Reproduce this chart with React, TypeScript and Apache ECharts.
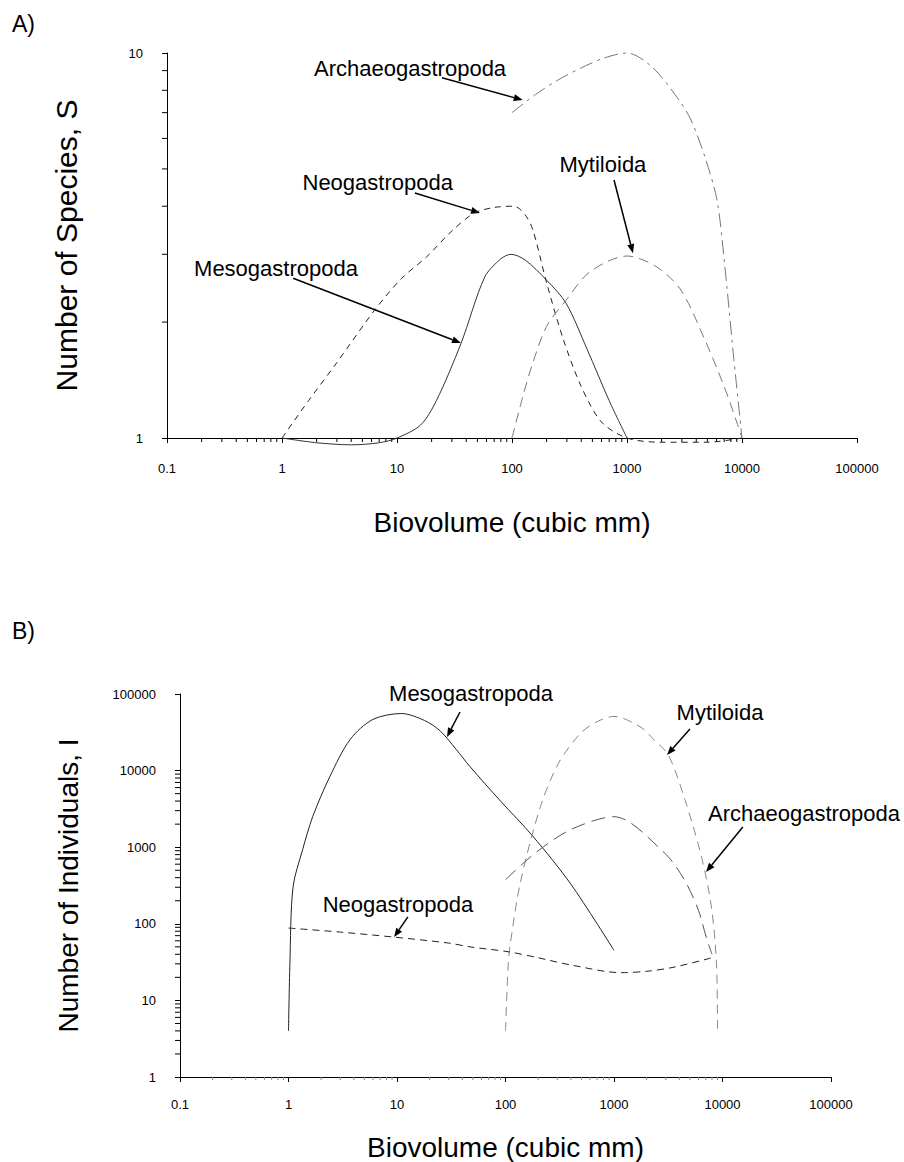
import React, { useEffect, useRef } from "react";
import * as echarts from "echarts";

// ---------- DATA ----------
const xTickValues = [0.1, 1, 10, 100, 1000, 10000, 100000];
const yTicksA = [1, 10];
const yTicksB = [1, 10, 100, 1000, 10000, 100000];

// Panel A: Number of species, S
const neoA: [number, number][] = [
  [1, 1], [1.7, 1.25], [3, 1.57], [6.4, 2.15], [11, 2.6], [18, 2.95], [30, 3.45],
  [47, 3.84], [70, 3.97], [104, 4], [130, 3.8], [152, 3.47], [200, 2.53], [280, 1.8],
  [400, 1.36], [600, 1.1], [1000, 1], [2000, 0.975], [5000, 0.975], [10000, 1],
];
const mesoA: [number, number][] = [
  [1, 1], [2, 0.972], [4, 0.96], [7, 0.972], [10, 1], [16, 1.08], [22, 1.25], [36, 1.76],
  [58, 2.62], [80, 2.92], [98, 3], [130, 2.9], [200, 2.57], [295, 2.24], [450, 1.7],
  [700, 1.25], [1000, 1],
];
const mytA: [number, number][] = [
  [100, 1], [124, 1.28], [152, 1.57], [200, 1.95], [295, 2.28], [475, 2.7], [1000, 2.97],
  [1820, 2.78], [2950, 2.42], [4750, 1.8], [7000, 1.36], [9000, 1.1], [10000, 1],
];
const archA: [number, number][] = [
  [100, 7.0], [160, 7.8], [250, 8.5], [400, 9.15], [630, 9.7], [1000, 10], [1650, 9.2],
  [2830, 7.55], [3600, 6.7], [4760, 5.37], [6060, 4.15], [7000, 2.9], [8500, 1.6], [10000, 1],
];

// Panel B: Number of individuals, I
const mesoB: [number, number][] = [
  [1, 4], [1.03, 30], [1.1, 300], [1.35, 930], [1.67, 2500], [2.4, 8300], [3.7, 25500],
  [6, 46600], [11, 55600], [18, 45000], [25, 33000], [35, 19000], [47, 11300], [90, 4000],
  [178, 1400], [400, 330], [1000, 45],
];
const mytB: [number, number][] = [
  [100, 4], [106, 30], [111, 56], [137, 345], [210, 3400], [310, 12700], [495, 31000],
  [710, 44000], [1000, 51000], [1780, 36500], [2350, 25000], [3170, 16000], [4500, 4200],
  [6400, 750], [7900, 167], [8800, 30], [9000, 4],
];
const archB: [number, number][] = [
  [100, 376], [190, 850], [400, 1700], [1000, 2500], [2900, 850], [4450, 376], [6000, 150],
  [7100, 66], [8000, 40],
];
const neoB: [number, number][] = [
  [1, 88], [3, 78], [9.4, 67], [30, 56], [47, 50], [108, 43], [200, 36], [400, 29],
  [1160, 23], [2000, 24], [3500, 27], [8000, 36],
];

// Annotation anchors (data coordinates): text centre, arrow tail, arrow head
const annotA = [
  { text: "Archaeogastropoda", at: [13, 9.14], from: [24.6, 8.62], to: [124, 7.55] },
  { text: "Neogastropoda", at: [6.8, 4.6], from: [14.3, 4.33], to: [52.7, 3.84] },
  { text: "Mesogastropoda", at: [0.887, 2.76], from: [1.25, 2.6], to: [36, 1.765] },
  { text: "Mytiloida", at: [618, 5.12], from: [771, 4.68], to: [1127, 3.02] },
];
const annotB = [
  { text: "Mesogastropoda", at: [48.1, 103000], from: [38.1, 58200], to: [28.9, 27500] },
  { text: "Mytiloida", at: [9480, 56500], from: [5010, 34900], to: [3080, 16000] },
  { text: "Archaeogastropoda", at: [56400, 2790], from: [15400, 1840], to: [7050, 474] },
  { text: "Neogastropoda", at: [10.2, 176], from: [12.6, 123], to: [9.4, 67] },
];

// ---------- helpers ----------
const FONT = '"Liberation Sans", Arial, sans-serif';

function minorValues(lo: number, hi: number): number[] {
  const out: number[] = [];
  for (let d = lo; d < hi * 0.999; d *= 10) {
    for (let m = 2; m <= 9; m++) out.push(+(d * m).toPrecision(6));
  }
  return out;
}

const fmt = (v: number) => {
  if (v < 0.5) return "0.1";
  return String(Math.round(v));
};

function tickSeries(xi: number, data: number[][], dx: number, dy: number, color = "#000") {
  return {
    type: "custom",
    xAxisIndex: xi,
    yAxisIndex: xi,
    silent: true,
    clip: false,
    data,
    z: 1,
    renderItem: (params: any, api: any) => {
      const p = api.coord([api.value(0), api.value(1)]);
      return {
        type: "line",
        shape: { x1: p[0], y1: p[1], x2: p[0] + dx, y2: p[1] + dy },
        style: { stroke: color, lineWidth: 1 },
      };
    },
  };
}

function lineSeries(name: string, idx: number, data: [number, number][], color: string, type: any) {
  return {
    name,
    type: "line",
    xAxisIndex: idx,
    yAxisIndex: idx,
    data,
    showSymbol: false,
    smooth: 0.3,
    clip: false,
    silent: true,
    lineStyle: { color, width: 1, type },
    z: 3,
  };
}

export default function App() {
  const ref = useRef<HTMLDivElement>(null);

  useEffect(() => {
    const chart = echarts.init(ref.current!, null, { renderer: "svg" });

    const xAxisCommon = (gi: number, margin: number, nameGap: number) => ({
      type: "log",
      logBase: 10,
      gridIndex: gi,
      min: xTickValues[0],
      max: xTickValues[xTickValues.length - 1],
      splitNumber: 6,
      name: "Biovolume (cubic mm)",
      nameLocation: "middle",
      nameGap,
      nameTextStyle: { fontSize: 28, color: "#000", fontFamily: FONT },
      axisLine: { lineStyle: { color: "#000", width: 1 } },
      axisTick: { show: true, length: 5, lineStyle: { color: "#000" } },
      axisLabel: { formatter: fmt, fontSize: 13, color: "#000", fontFamily: FONT, margin },
      splitLine: { show: false },
    });

    const yA = {
      type: "log",
      logBase: 10,
      gridIndex: 0,
      min: yTicksA[0],
      max: yTicksA[yTicksA.length - 1],
      name: "Number of Species, S",
      nameLocation: "middle",
      nameGap: 86,
      nameRotate: 90,
      nameTextStyle: { fontSize: 30, color: "#000", fontFamily: FONT },
      axisLine: { lineStyle: { color: "#000", width: 1 } },
      axisTick: { show: true, length: 5, lineStyle: { color: "#000" } },
      axisLabel: { formatter: fmt, fontSize: 13, color: "#000", fontFamily: FONT, margin: 24 },
      splitLine: { show: false },
    };
    const yB = {
      type: "log",
      logBase: 10,
      gridIndex: 1,
      min: yTicksB[0],
      max: yTicksB[yTicksB.length - 1],
      splitNumber: 5,
      name: "Number of Individuals, I",
      nameLocation: "middle",
      nameGap: 98,
      nameRotate: 90,
      nameTextStyle: { fontSize: 28, color: "#000", fontFamily: FONT },
      axisLine: { lineStyle: { color: "#000", width: 1 } },
      axisTick: { show: true, length: 5, lineStyle: { color: "#000" } },
      axisLabel: { formatter: fmt, fontSize: 13, color: "#000", fontFamily: FONT, margin: 24 },
      splitLine: { show: false },
    };

    const minorXA = minorValues(0.1, 10000).map((v) => [v, yTicksA[0]]);
    const minorYAData = [2, 3, 4, 5, 6, 7, 8, 9].map((m) => [xTickValues[0], m]);
    const minorYBData = minorValues(1, 10000).map((v) => [xTickValues[0], v]);
    const minorXBData = minorValues(0.1, 10000).map((v) => [v, yTicksB[0]]);

    chart.setOption({
      animation: false,
      backgroundColor: "#fff",
      grid: [
        { left: 167, top: 53, width: 690, height: 385 },
        { left: 180, top: 694, width: 651, height: 383 },
      ],
      xAxis: [xAxisCommon(0, 24, 70), xAxisCommon(1, 21, 56)],
      yAxis: [yA, yB],
      series: [
        tickSeries(0, minorXA, 0, 4),
        tickSeries(0, minorYAData, -5, 0),
        tickSeries(1, minorYBData, -5, 0),
        tickSeries(1, minorXBData, 0, 3, "#888"),
        lineSeries("Neogastropoda", 0, neoA, "#222", [6, 5]),
        lineSeries("Mesogastropoda", 0, mesoA, "#333", "solid"),
        lineSeries("Mytiloida", 0, mytA, "#777", [10, 6]),
        lineSeries("Archaeogastropoda", 0, archA, "#777", [14, 5, 3, 5]),
        lineSeries("Mesogastropoda", 1, mesoB, "#222", "solid"),
        lineSeries("Mytiloida", 1, mytB, "#888", [9, 6]),
        lineSeries("Archaeogastropoda", 1, archB, "#555", [14, 7]),
        lineSeries("Neogastropoda", 1, neoB, "#222", [7, 5]),
      ],
    });

    const graphics: any[] = [
      { type: "text", style: { text: "A)", x: 12, y: 24, font: `23px ${FONT}`, fill: "#000", verticalAlign: "middle" } },
      { type: "text", style: { text: "B)", x: 12, y: 631, font: `23px ${FONT}`, fill: "#000", verticalAlign: "middle" } },
    ];

    const addAnnot = (list: any[], gi: number) => {
      list.forEach((a) => {
        const t = chart.convertToPixel({ gridIndex: gi }, a.at) as number[];
        const f = chart.convertToPixel({ gridIndex: gi }, a.from) as number[];
        const h = chart.convertToPixel({ gridIndex: gi }, a.to) as number[];
        graphics.push({
          type: "text",
          style: { text: a.text, x: t[0], y: t[1], font: `22px ${FONT}`, fill: "#000", align: "center", verticalAlign: "middle" },
        });
        const dx = h[0] - f[0];
        const dy = h[1] - f[1];
        const len = Math.sqrt(dx * dx + dy * dy);
        const ux = dx / len;
        const uy = dy / len;
        const bx = h[0] - ux * 9;
        const by = h[1] - uy * 9;
        graphics.push({
          type: "line",
          shape: { x1: f[0], y1: f[1], x2: bx, y2: by },
          style: { stroke: "#000", lineWidth: 1.5 },
        });
        graphics.push({
          type: "polygon",
          shape: {
            points: [
              [h[0], h[1]],
              [bx - uy * 3.5, by + ux * 3.5],
              [bx + uy * 3.5, by - ux * 3.5],
            ],
          },
          style: { fill: "#000" },
        });
      });
    };
    addAnnot(annotA, 0);
    addAnnot(annotB, 1);

    chart.setOption({ graphic: graphics });

    return () => chart.dispose();
  }, []);

  return (
    <div
      ref={ref}
      style={{ position: "fixed", left: 0, top: 0, width: 904, height: 1162, background: "#fff" }}
    />
  );
}
